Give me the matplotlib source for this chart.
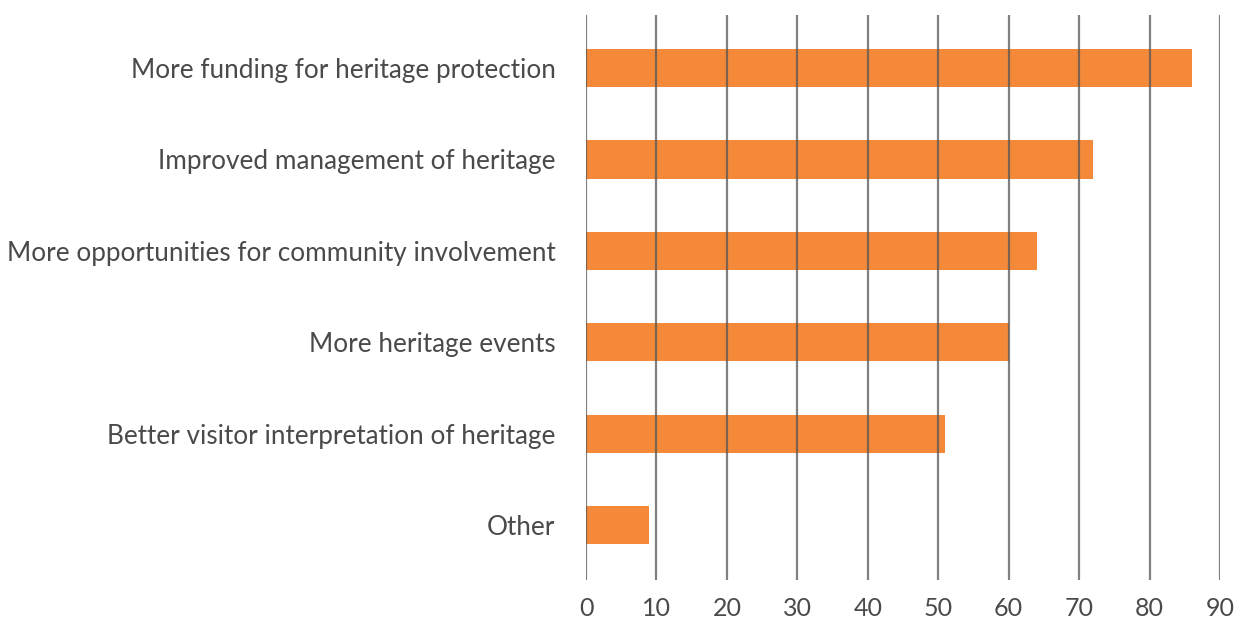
import matplotlib
matplotlib.use("Agg")
import matplotlib.pyplot as plt

categories = [
    "More funding for heritage protection",
    "Improved management of heritage",
    "More opportunities for community involvement",
    "More heritage events",
    "Better visitor interpretation of heritage",
    "Other",
]
values = [86, 72, 64, 60, 51, 9]
xticks = [0, 10, 20, 30, 40, 50, 60, 70, 80, 90]

plt.rcParams['font.family'] = ['Lato', 'DejaVu Sans']

fig = plt.figure(figsize=(12.53, 6.24), dpi=100)
ax = fig.add_axes([586/1253, 1-580/624, (1220-586)/1253, (580-15)/624])

ypos = list(range(len(categories)))
ax.barh(ypos, values, height=0.42, color="#F5893A", zorder=1)
for t in xticks:
    ax.axvline(t, color="#555555", lw=1.6, alpha=0.75, zorder=2)

ax.set_xlim(0, 90)
ax.set_ylim(5.6, -0.58)
ax.set_xticks(xticks)
ax.set_xticklabels([str(t) for t in xticks])
ax.set_yticks(ypos)
ax.set_yticklabels(categories)
ax.tick_params(axis='both', length=0, colors="#4a4a4a")
ax.tick_params(axis='y', pad=22, labelsize=18.8)
ax.tick_params(axis='x', pad=12, labelsize=18)
for s in ax.spines.values():
    s.set_visible(False)

fig.savefig("out.png", dpi=100)
